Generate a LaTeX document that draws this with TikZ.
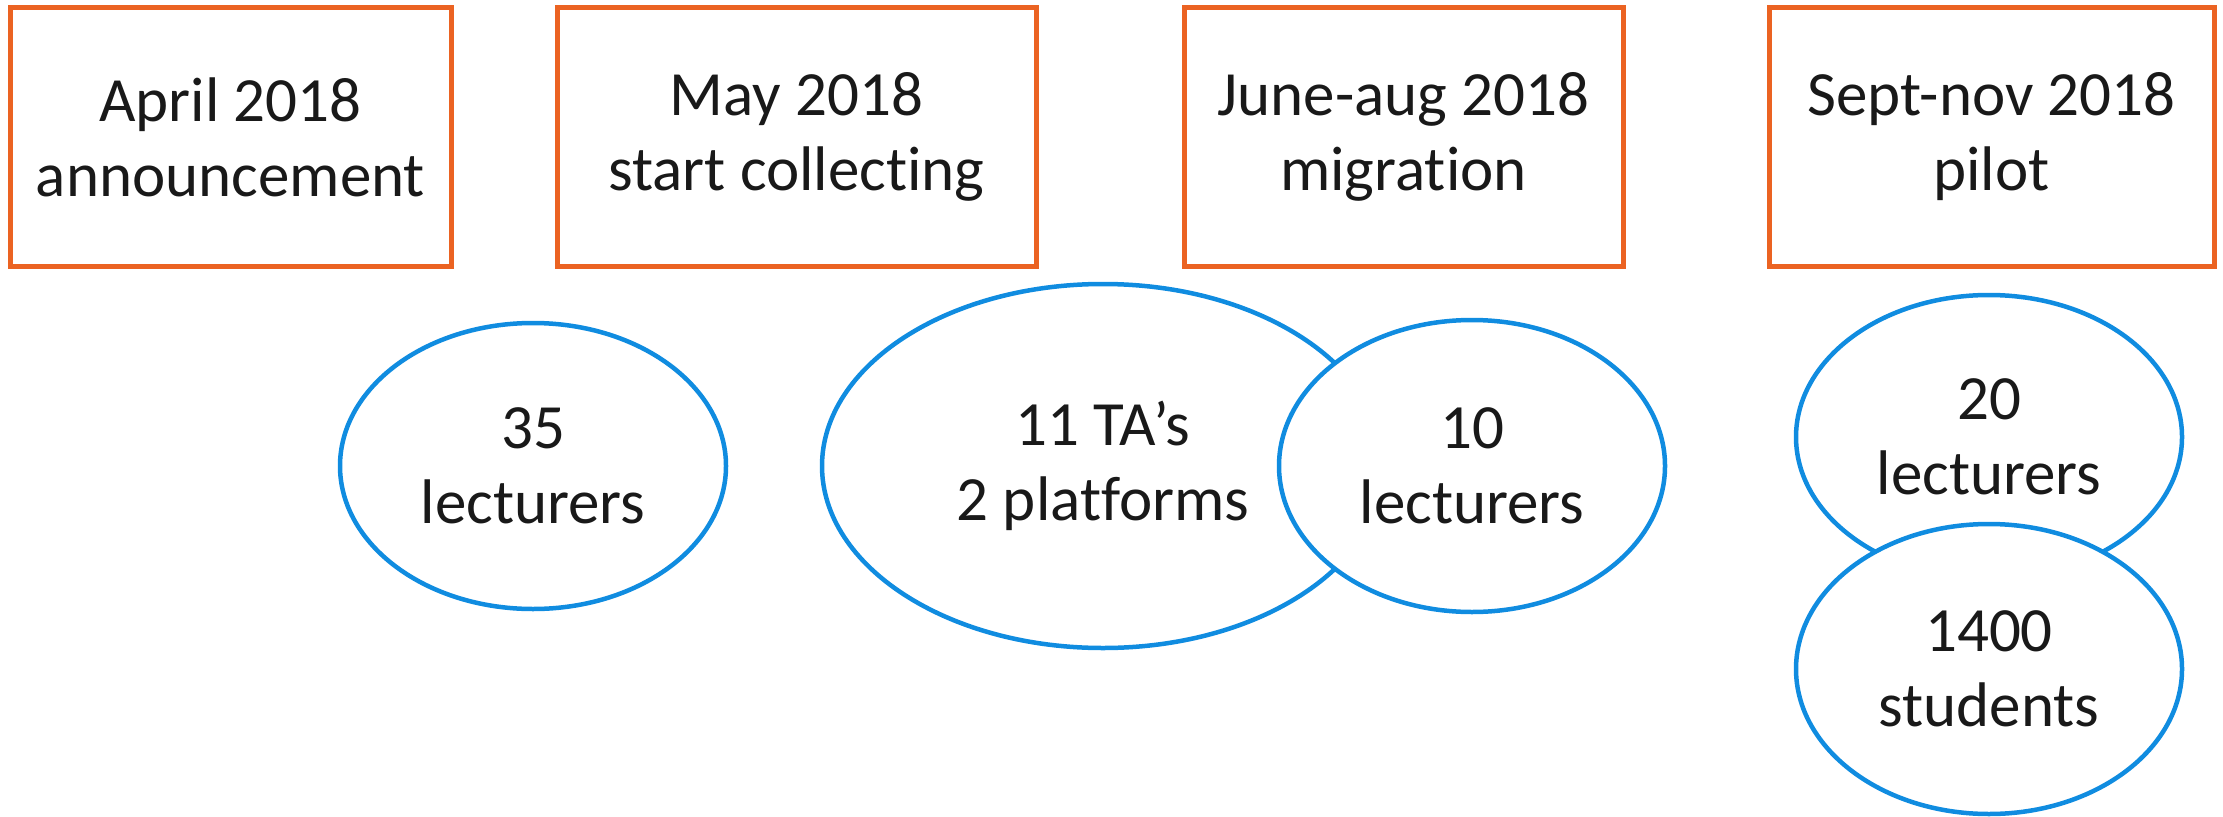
\documentclass[tikz,border=0pt]{standalone}
\usepackage{fontspec}
\setmainfont{Carlito}[Ligatures=NoCommon]
\usetikzlibrary{shapes.geometric}
\definecolor{boxorange}{RGB}{235,99,34}
\definecolor{ellblue}{RGB}{16,140,224}
\begin{document}
\begin{tikzpicture}[x=1pt,y=-1pt,
  box/.style={draw=boxorange, line width=5pt, rectangle, align=center,
    font=\fontsize{63}{75}\selectfont, inner sep=0pt, minimum height=259pt, text=black!90},
  blob/.style={draw=ellblue, line width=4.5pt, ellipse, fill=white, align=center,
    font=\fontsize{63}{75}\selectfont, inner sep=0pt, text=black!90}]
\useasboundingbox (0,0) rectangle (2223,816);
\node[box, minimum width=441pt] (b1) at (230.5,137) {April 2018\\announcement};
\node[box, minimum width=479pt] (b2) at (796.5,137) {May 2018\\start collecting};
\node[box, minimum width=439pt] (b3) at (1403.5,137) {June-aug 2018\\migration};
\node[box, minimum width=445pt] (b4) at (1991.5,137) {Sept-nov 2018\\pilot};
\node[blob, minimum width=386pt, minimum height=286pt] (e1) at (533,466) {35\\lecturers};
\node[blob, minimum width=562pt, minimum height=364pt] (e2) at (1103,466) {11 TA’s\\2 platforms};
\node[blob, minimum width=386pt, minimum height=292pt] (e3) at (1472,466) {10\\lecturers};
\node[blob, minimum width=386pt, minimum height=284pt] (e4) at (1989,437) {20\\lecturers};
\node[blob, minimum width=386pt, minimum height=290pt] (e5) at (1989,669) {1400\\students};
\end{tikzpicture}
\end{document}
